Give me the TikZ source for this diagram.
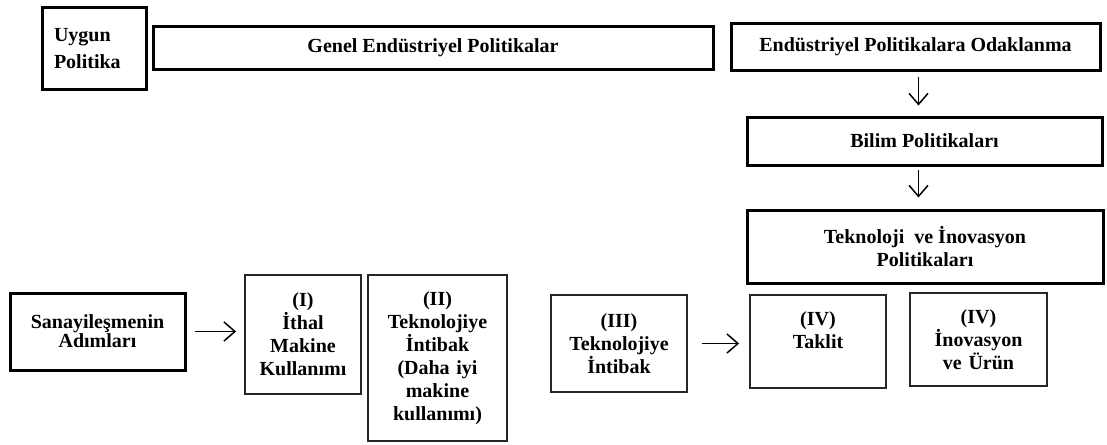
\documentclass[tikz,border=0pt]{standalone}
\usepackage{fontspec}
\setmainfont{Liberation Serif}
\usetikzlibrary{arrows.meta}
\begin{document}
\begin{tikzpicture}[x=1pt,y=-1pt,
  txt/.style={font=\bfseries\fontsize{20}{23}\selectfont, align=center, inner sep=0pt},
  thickbox/.style={txt, draw=black, line width=3pt},
  thinbox/.style={txt, draw=black!85, line width=1.8pt},
  arr/.style={-{Straight Barb[length=11pt,width=19pt]}, line width=1.5pt}]
\useasboundingbox (0,0) rectangle (1107,444);

% top row of policy boxes
\node[thickbox, minimum width=104pt, minimum height=81pt, text width=80pt, align=left,
      font=\bfseries\fontsize{20}{27}\selectfont] (uygun) at (94,48.5) {Uygun\\Politika};
\node[thickbox, minimum width=560pt, minimum height=42pt] (genel) at (433,48) {Genel Endüstriyel Politikalar};
\node[thickbox, minimum width=369pt, minimum height=46pt] (odak) at (915.5,47) {Endüstriyel Politikalara Odaklanma};
\node[thickbox, minimum width=355pt, minimum height=48pt] (bilim) at (924.5,141) {Bilim Politikaları};
\node[thickbox, minimum width=356pt, minimum height=73pt] (tekpol) at (925,246.5) {Teknoloji~ ve İnovasyon\\Politikaları};

% stages of industrialisation
\node[thickbox, minimum width=175pt, minimum height=77pt, font=\bfseries\fontsize{20}{19}\selectfont] (san) at (97.5,331.5) {Sanayileşmenin\\Adımları};
\node[thinbox, minimum width=116pt, minimum height=119pt, text width=110pt] (b1) at (303,334.5) {(I)\\İthal\\Makine\\Kullanımı};
\node[thinbox, minimum width=139pt, minimum height=166pt, text width=132pt] (b2) at (437.5,358) {(II)\\Teknolojiye\\İntibak\\(Daha iyi\\makine\\kullanımı)};
\node[thinbox, minimum width=136pt, minimum height=97pt, text width=130pt] (b3) at (619,343.5) {(III)\\Teknolojiye\\İntibak};
\node[thinbox, minimum width=136pt, minimum height=93pt, text width=130pt] (b4) at (818,341.5) {(IV)\\Taklit\\~};
\node[thinbox, minimum width=137pt, minimum height=93pt, text width=130pt] (b5) at (978.5,339.5) {(IV)\\İnovasyon\\ve Ürün};

% connectors
\draw[arr, shorten <=5pt, shorten >=10pt] ([xshift=3pt]odak.south) -- ([xshift=3pt]odak.south |- bilim.north);
\draw[arr, shorten <=3pt, shorten >=11pt] ([xshift=-6pt]bilim.south) -- ([xshift=-6pt]bilim.south |- tekpol.north);
\draw[arr, shorten <=8pt, shorten >=8pt] (san.east) -- (san.east -| b1.west);
\draw[arr, shorten <=14pt, shorten >=10pt] (b3.east) -- (b3.east -| b4.west);
\end{tikzpicture}
\end{document}
